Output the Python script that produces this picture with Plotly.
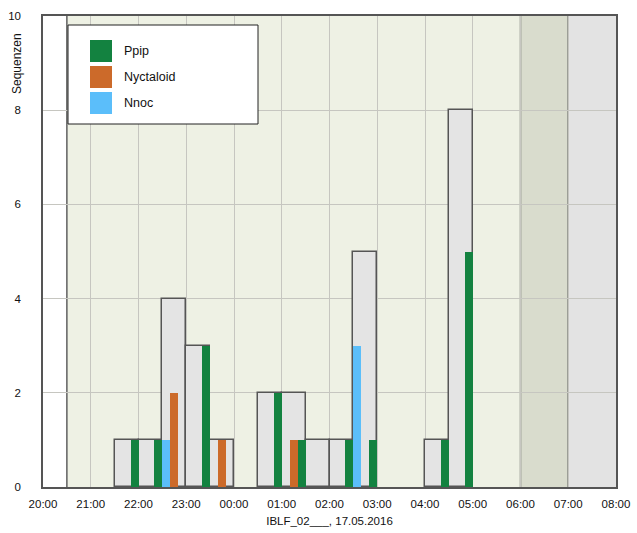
import plotly.graph_objects as go

# ---- data ----
bin_starts = ["21:30", "22:00", "22:30", "23:00", "23:30", "00:30",
              "01:00", "01:30", "02:00", "02:30", "04:00", "04:30"]
total = [1, 1, 4, 3, 1, 2, 2, 1, 1, 5, 1, 8]
ppip = [1, 1, 0, 3, 0, 2, 1, 0, 1, 1, 1, 5]
nyctaloid = [0, 0, 2, 0, 1, 0, 1, 0, 0, 0, 0, 0]
nnoc = [0, 0, 1, 0, 0, 0, 0, 0, 0, 3, 0, 0]
series_names = ["Ppip", "Nyctaloid", "Nnoc"]
series_colors = ["#138240", "#CC6A2A", "#5BBEFA"]
y_ticks = [0, 2, 4, 6, 8, 10]
x_label = "IBLF_02___, 17.05.2016"
y_label = "Sequenzen"


def to_dt(t):
    h = int(t.split(":")[0])
    day = "2016-05-17" if h >= 12 else "2016-05-18"
    return f"{day} {t}:00"


xs = [to_dt(t) for t in bin_starts]
HALF = 30 * 60 * 1000
SLOT = 10 * 60 * 1000

fig = go.Figure()
fig.add_trace(go.Bar(x=xs, y=total, width=HALF, offset=0,
                     marker=dict(color="#E4E4E4", line=dict(color="#555555", width=1.5)),
                     showlegend=False, hoverinfo="skip"))
for vals, name, col, k in [(nnoc, "Nnoc", series_colors[2], 0),
                           (nyctaloid, "Nyctaloid", series_colors[1], 1),
                           (ppip, "Ppip", series_colors[0], 2)]:
    fig.add_trace(go.Bar(x=xs, y=vals, width=SLOT, offset=k * SLOT, name=name,
                         marker=dict(color=col, line=dict(width=0)),
                         showlegend=False))

shapes = []
# background periods
shapes.append(dict(type="rect", xref="x", yref="paper", x0="2016-05-17 20:30", x1="2016-05-18 06:00",
                   y0=0, y1=1, fillcolor="#EEF1E4", line=dict(width=0), layer="below"))
shapes.append(dict(type="rect", xref="x", yref="paper", x0="2016-05-18 06:00", x1="2016-05-18 07:00",
                   y0=0, y1=1, fillcolor="#D9DCCD", line=dict(width=0), layer="below"))
shapes.append(dict(type="rect", xref="x", yref="paper", x0="2016-05-18 07:00", x1="2016-05-18 08:00",
                   y0=0, y1=1, fillcolor="#E3E3E3", line=dict(width=0), layer="below"))
for xv in ["2016-05-17 20:30", "2016-05-18 06:00", "2016-05-18 07:00"]:
    shapes.append(dict(type="line", xref="x", yref="paper", x0=xv, x1=xv, y0=0, y1=1,
                       line=dict(color="#555555", width=1.4), layer="between"))

# manual legend
PW, PH = 573, 471  # plot size in px
L, T = 43, 16


def px(x):
    return (x - L) / PW


def py(y):
    return 1 - (y - T) / PH


shapes.append(dict(type="rect", xref="paper", yref="paper", x0=px(68), x1=px(258),
                   y0=py(124), y1=py(25), fillcolor="white",
                   line=dict(color="#222222", width=1), layer="above"))
annotations = []
for i, (nm, col) in enumerate(zip(series_names, series_colors)):
    yc = 51 + i * 26
    shapes.append(dict(type="rect", xref="paper", yref="paper", x0=px(90), x1=px(112),
                       y0=py(yc + 11), y1=py(yc - 11), fillcolor=col,
                       line=dict(width=0), layer="above"))
    annotations.append(dict(xref="paper", yref="paper", x=px(122), y=py(yc), text=nm,
                            showarrow=False, xanchor="left", yanchor="middle",
                            font=dict(size=12.5, color="#111111")))

annotations.append(dict(xref="paper", yref="paper", x=px(17), y=py(64), text=y_label,
                        textangle=-90, showarrow=False, xanchor="center", yanchor="middle",
                        font=dict(size=12, color="#111111")))

fig.update_layout(
    width=637, height=533,
    margin=dict(l=L, r=21, t=T, b=46),
    paper_bgcolor="white", plot_bgcolor="white",
    barmode="overlay", bargap=0,
    font=dict(family="Liberation Sans, Arial, sans-serif", size=11.5, color="#111111"),
    shapes=shapes, annotations=annotations, showlegend=False,
)
fig.update_xaxes(type="date", range=["2016-05-17 20:00", "2016-05-18 08:00"],
                 tickformat="%H:%M", dtick=3600000, tick0="2016-05-17 20:00",
                 showgrid=True, gridcolor="#C6C6C0", gridwidth=1,
                 showline=True, linecolor="#555555", linewidth=1.5, mirror=True,
                 ticks="", ticklabelstandoff=5, automargin=False,
                 title=dict(text=x_label, standoff=8, font=dict(size=11.5)))
fig.update_yaxes(range=[0, 10], tickvals=y_ticks, showgrid=True, gridcolor="#C6C6C0",
                 gridwidth=1, zeroline=False, automargin=False,
                 showline=True, linecolor="#555555", linewidth=1.5, mirror=True,
                 ticks="", ticklabelstandoff=18)

fig.write_html("out.html", config={"displayModeBar": False},
               post_script="document.body.style.margin='0';")
